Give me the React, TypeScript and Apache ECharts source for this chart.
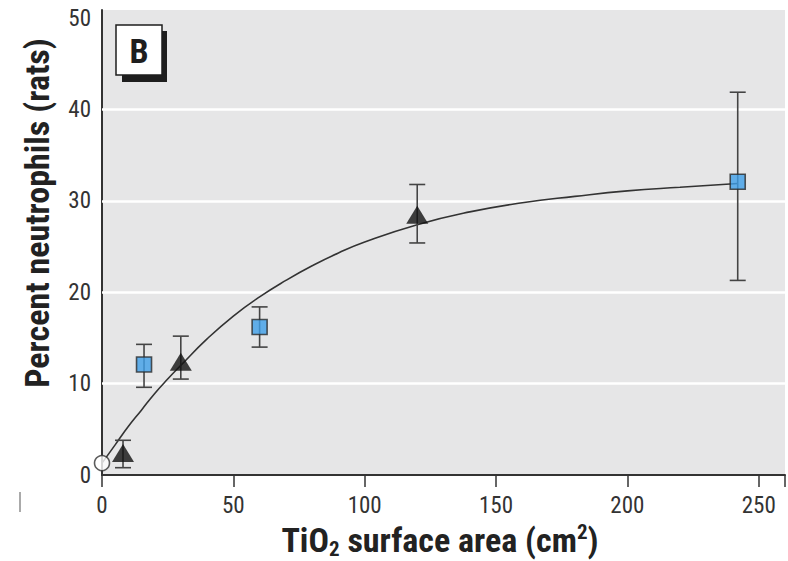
import React, { useEffect, useRef } from "react";
import * as echarts from "echarts";

const xTickStep = 50;
const yTickStep = 10;
const gridValues = [10, 20, 30, 40];
const controlX = [0];
const controlY = [1.3];
const triangleX = [8, 30, 120];
const triangleY = [2.4, 12.4, 28.5];
const triangleLow = [0.8, 10.5, 25.4];
const triangleHigh = [3.8, 15.2, 31.8];
const squareX = [16, 60, 242];
const squareY = [12.1, 16.2, 32.1];
const squareLow = [9.6, 14.0, 21.3];
const squareHigh = [14.3, 18.4, 41.9];
const curveX = [0, 5, 10, 15, 20, 25, 30, 40, 50, 60, 70, 80, 90, 100, 120, 140, 160, 180, 200, 220, 242];
const curveY = [1.3, 3.3, 5.3, 7.1, 8.9, 10.5, 12.0, 14.9, 17.4, 19.5, 21.3, 22.9, 24.3, 25.5, 27.4, 28.8, 29.8, 30.5, 31.1, 31.5, 31.9];

const FONT = "Roboto Condensed";

function errorSeries(name: string, xs: number[], lows: number[], highs: number[]) {
  return {
    type: "custom",
    name,
    data: xs.map((x, i) => [x, lows[i], highs[i]]),
    encode: { x: 0, y: [1, 2] },
    z: 3,
    clip: false,
    silent: true,
    renderItem: (params: any, api: any) => {
      const x = api.value(0);
      const lo = api.coord([x, api.value(1)]);
      const hi = api.coord([x, api.value(2)]);
      const w = 8;
      const style = { stroke: "#444", lineWidth: 1.6, fill: "none" };
      return {
        type: "group",
        children: [
          { type: "line", shape: { x1: lo[0], y1: lo[1], x2: hi[0], y2: hi[1] }, style },
          { type: "line", shape: { x1: lo[0] - w, y1: lo[1], x2: lo[0] + w, y2: lo[1] }, style },
          { type: "line", shape: { x1: hi[0] - w, y1: hi[1], x2: hi[0] + w, y2: hi[1] }, style },
        ],
      };
    },
  };
}

export default function App() {
  const ref = useRef<HTMLDivElement>(null);
  useEffect(() => {
    if (!ref.current) return;
    const chart = echarts.init(ref.current, null, { renderer: "svg" });
    const option: any = {
      animation: false,
      backgroundColor: "#ffffff",
      grid: { left: 102, right: 0, top: 10, bottom: 86, show: true, backgroundColor: "#e6e6e7", borderWidth: 0 },
      xAxis: {
        type: "value",
        min: 0,
        max: 260,
        interval: xTickStep,
        axisLine: { show: true, onZero: false, lineStyle: { color: "#333", width: 2 } },
        axisTick: { show: true, inside: false, length: 12, lineStyle: { color: "#333", width: 1.5 } },
        axisLabel: {
          margin: 19,
          color: "#333",
          fontFamily: FONT,
          fontSize: 23,
          formatter: (v: number) => (v % xTickStep === 0 ? String(v) : ""),
        },
        splitLine: { show: false },
      },
      yAxis: {
        type: "value",
        min: 0,
        max: 50.9,
        interval: yTickStep,
        axisLine: { show: true, onZero: false, lineStyle: { color: "#333", width: 2 } },
        axisTick: { show: false },
        axisLabel: {
          margin: 11,
          color: "#333",
          fontFamily: FONT,
          fontSize: 23,
          formatter: (v: number) => (v % yTickStep === 0 ? String(v) : ""),
        },
        splitLine: { show: false },
      },
      graphic: {
        elements: [
          {
            type: "text",
            x: 37,
            y: 213,
            rotation: Math.PI / 2,
            style: {
              text: "Percent neutrophils (rats)",
              fill: "#222",
              fontFamily: FONT,
              fontWeight: "bold",
              fontSize: 34,
              textAlign: "center",
              textVerticalAlign: "middle",
              align: "center",
              verticalAlign: "middle",
            },
          },
          {
            type: "text",
            x: 440,
            y: 540,
            style: {
              text: "{m|TiO}{sub|2}{m| surface area (cm}{sup|2}{m|)}",
              fill: "#222",
              textAlign: "center",
              textVerticalAlign: "middle",
              align: "center",
              verticalAlign: "middle",
              rich: {
                m: { fontFamily: FONT, fontWeight: "bold", fontSize: 34, lineHeight: 38, fill: "#222" },
                sub: { fontFamily: FONT, fontWeight: "bold", fontSize: 21, lineHeight: 16, verticalAlign: "bottom", fill: "#222" },
                sup: { fontFamily: FONT, fontWeight: "bold", fontSize: 21, lineHeight: 20, verticalAlign: "top", fill: "#222" },
              },
            },
          },
          {
            type: "rect",
            shape: { x: 122, y: 31, width: 45, height: 51 },
            style: { fill: "#1e1e1e" },
            z: 10,
          },
          {
            type: "rect",
            shape: { x: 116, y: 25, width: 46, height: 50 },
            style: { fill: "#ffffff", stroke: "#1e1e1e", lineWidth: 1.5 },
            z: 11,
          },
          {
            type: "text",
            x: 139,
            y: 51,
            z: 12,
            style: {
              text: "B",
              fill: "#1e1e1e",
              fontFamily: FONT,
              fontWeight: "bold",
              fontSize: 34,
              textAlign: "center",
              textVerticalAlign: "middle",
              align: "center",
              verticalAlign: "middle",
            },
          },
          {
            type: "line",
            shape: { x1: 20, y1: 492, x2: 20, y2: 512 },
            style: { stroke: "#aaa", lineWidth: 2 },
          },
        ],
      },
      series: [
        {
          type: "line",
          name: "fit",
          data: curveX.map((x, i) => [x, curveY[i]]),
          smooth: true,
          showSymbol: false,
          symbol: "none",
          lineStyle: { color: "#333", width: 1.6 },
          z: 2,
          silent: true,
          markLine: {
            silent: true,
            symbol: "none",
            label: { show: false },
            lineStyle: { color: "#ffffff", width: 2.5, type: "solid" },
            data: gridValues.map((v) => ({ yAxis: v })),
            z: 1,
          },
        },
        errorSeries("triangleErr", triangleX, triangleLow, triangleHigh),
        errorSeries("squareErr", squareX, squareLow, squareHigh),
        {
          type: "scatter",
          name: "triangles",
          data: triangleX.map((x, i) => [x, triangleY[i]]),
          symbol: "triangle",
          symbolSize: [22, 18],
          itemStyle: { color: "#111" },
          z: 5,
          clip: false,
        },
        {
          type: "scatter",
          name: "squares",
          data: squareX.map((x, i) => [x, squareY[i]]),
          symbol: "rect",
          symbolSize: 15,
          itemStyle: { color: "#3e9fe8", borderColor: "#2a2a2a", borderWidth: 1.6 },
          z: 5,
          clip: false,
        },
        {
          type: "scatter",
          name: "control",
          data: controlX.map((x, i) => [x, controlY[i]]),
          symbol: "circle",
          symbolSize: 15,
          itemStyle: { color: "#ffffff", borderColor: "#333", borderWidth: 1.6 },
          z: 6,
          clip: false,
        },
      ],
    };
    chart.setOption(option);
    return () => chart.dispose();
  }, []);
  return (
    <div
      ref={ref}
      style={{ position: "fixed", left: 0, top: 0, width: 788, height: 561, background: "#fff" }}
    />
  );
}
